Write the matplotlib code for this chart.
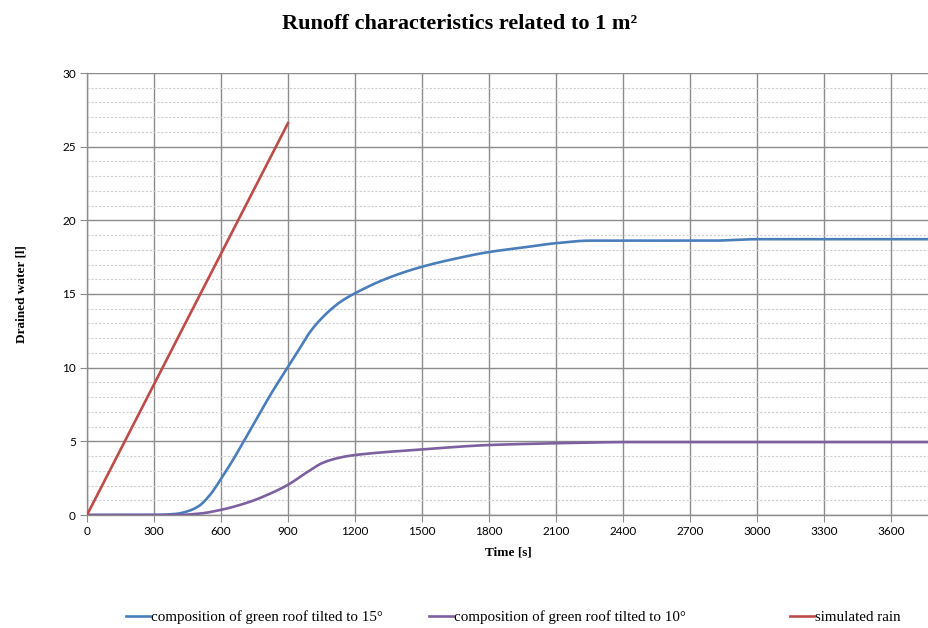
import numpy as np
from matplotlib import pyplot as plt
from matplotlib.ticker import MultipleLocator

# data
t_roof15 = [0, 300, 400, 450, 500, 550, 600, 650, 700, 775, 833, 900, 950,
            1000, 1057, 1133, 1200, 1350, 1500, 1650, 1800, 1950, 2100, 2250,
            2800, 3000, 3770]
q_roof15 = [0, 0, 0.08, 0.25, 0.6, 1.35, 2.45, 3.65, 4.95, 6.95, 8.45, 10.05,
            11.25, 12.45, 13.45, 14.45, 15.05, 16.1, 16.85, 17.4, 17.85, 18.15,
            18.45, 18.62, 18.62, 18.72, 18.72]

t_roof10 = [0, 400, 506, 600, 730, 805, 900, 985, 1057, 1133, 1200, 1500,
            1800, 2100, 2300, 2400, 3770]
q_roof10 = [0, 0, 0.1, 0.35, 0.9, 1.35, 2.05, 2.9, 3.55, 3.9, 4.07, 4.45,
            4.75, 4.87, 4.93, 4.95, 4.95]

t_rain = [0, 900]
q_rain = [0, 26.6]

labels = ['composition of green roof tilted to 15°',
          'composition of green roof tilted to 10°',
          'simulated rain']
colors = ['#4a7ebb', '#7d60a0', '#be4b48']


def smooth(x, y, n=600):
    # monotone cubic (like excel "smoothed line"), only for drawing
    x = np.asarray(x, float)
    y = np.asarray(y, float)
    h = np.diff(x)
    d = np.diff(y) / h
    m = np.zeros_like(y)
    m[0], m[-1] = d[0], d[-1]
    for k in range(1, len(x) - 1):
        if d[k-1] * d[k] <= 0:
            m[k] = 0
        else:
            w1 = 2*h[k] + h[k-1]
            w2 = h[k] + 2*h[k-1]
            m[k] = (w1 + w2) / (w1/d[k-1] + w2/d[k])
    xs = np.linspace(x[0], x[-1], n)
    i = np.clip(np.searchsorted(x, xs) - 1, 0, len(x) - 2)
    s = (xs - x[i]) / h[i]
    h00 = 2*s**3 - 3*s**2 + 1
    h10 = s**3 - 2*s**2 + s
    h01 = -2*s**3 + 3*s**2
    h11 = s**3 - s**2
    ys = h00*y[i] + h10*h[i]*m[i] + h01*y[i+1] + h11*h[i]*m[i+1]
    return xs, ys


fig = plt.figure(figsize=(9.29, 6.28), dpi=100)
ax = fig.add_axes([87/929, 1-515/628, 1-87/929, (515-73)/628])

l1, = ax.plot(*smooth(t_roof15, q_roof15), color=colors[0], lw=1.9, zorder=3)
l2, = ax.plot(*smooth(t_roof10, q_roof10), color=colors[1], lw=1.9, zorder=3)
l3, = ax.plot(t_rain, q_rain, color=colors[2], lw=1.9, zorder=3)

ax.set_xlim(0, 3770)
ax.set_ylim(0, 30)
ax.xaxis.set_major_locator(MultipleLocator(300))
ax.yaxis.set_major_locator(MultipleLocator(5))
ax.yaxis.set_minor_locator(MultipleLocator(1))

ax.grid(which='major', color='#8c8c8c', lw=1.0, ls='-')
ax.grid(which='minor', axis='y', color='#cfcfcf', lw=0.8, ls=(0, (2, 1.5)))
ax.set_axisbelow(True)

for s in ['top', 'right']:
    ax.spines[s].set_visible(False)
for s in ['left', 'bottom']:
    ax.spines[s].set_color('#8c8c8c')
    ax.spines[s].set_linewidth(1.0)

ax.tick_params(which='major', length=5, color='#8c8c8c', labelsize=8.5, pad=3)
ax.tick_params(which='minor', length=0)
for lab in ax.get_xticklabels() + ax.get_yticklabels():
    lab.set_family('Lato')

ax.set_xlabel('Time [s]', family='Liberation Serif', fontweight='bold', fontsize=9.5, labelpad=7)
ax.set_ylabel('Drained water [l]', family='Liberation Serif', fontweight='bold', fontsize=9.5, labelpad=25)

fig.text(0.495, 0.962, 'Runoff characteristics related to 1 m²', ha='center', va='center',
         family='Liberation Serif', fontweight='bold', fontsize=16)

for line, lab, x in zip([l1, l2, l3], labels, [126/929, 429/929, 790/929]):
    fig.legend([line], [lab], loc='center left', bbox_to_anchor=(x, 0.0175),
               frameon=False, prop={'family': 'Liberation Serif', 'size': 10.8},
               handlelength=1.6, handletextpad=0.05, borderpad=0, borderaxespad=0)

fig.savefig('out.png', dpi=100)
